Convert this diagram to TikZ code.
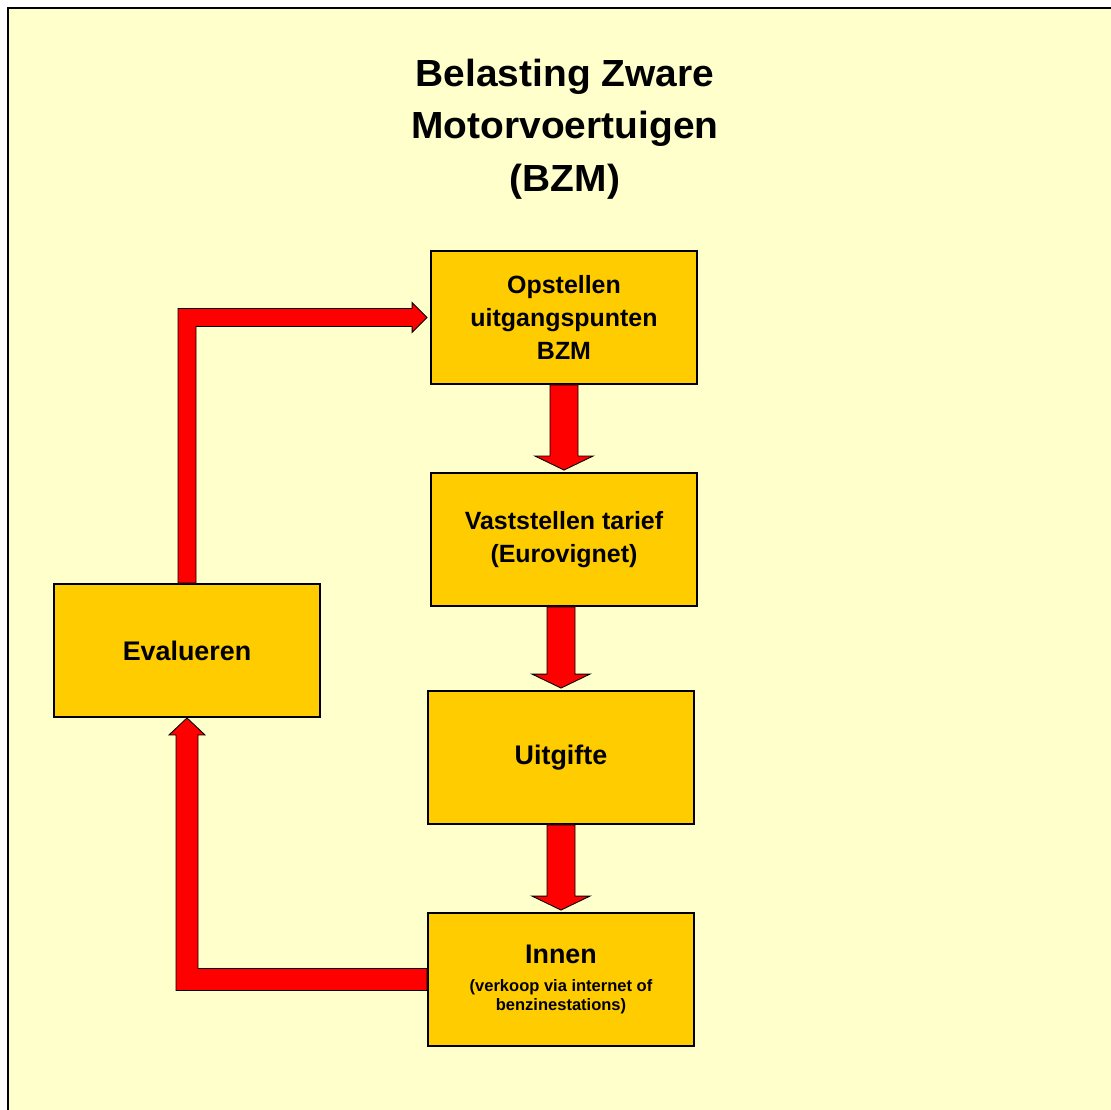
\documentclass[tikz,border=0pt]{standalone}
\usepackage{fontspec}
\setmainfont{Liberation Sans}
\newfontfamily\titelfont{Liberation Sans}[FakeStretch=1.03]
\usepackage{tikz}
\usetikzlibrary{calc,positioning}
\definecolor{achtergrond}{HTML}{FFFFCC}
\definecolor{blokgeel}{HTML}{FFCC00}
\tikzset{>=stealth}
\tikzset{
	stap/.style={draw=black, line width=1.1pt, fill=blokgeel, minimum width=5.32cm, minimum height=2.66cm, inner sep=0pt, align=center, font=\fontsize{14.2}{19}\selectfont\bfseries},
	grotestap/.style={stap, font=\fontsize{15.3}{19}\selectfont\bfseries},
	blok/.style={draw=black, line width=0.5pt, fill=red, line join=miter},
	titel/.style={align=center, font=\titelfont\fontsize{21.5}{29.8}\selectfont\bfseries}
}
\newcommand{\subfont}{\fontsize{9.4}{11.3}\selectfont}
% blokpijl naar beneden, van #1 naar #2
\newcommand{\pijlomlaag}[2]{%
	\draw[blok] ($(#1.south -| #2.north)+(-14,0)$) -- ($(#2.north)+(-14,-16)$) -- ($(#2.north)+(-29,-16)$) -- ($(#2.north)+(0,-2)$) -- ($(#2.north)+(29,-16)$) -- ($(#2.north)+(14,-16)$) -- ($(#1.south -| #2.north)+(14,0)$) -- cycle;}

\begin{document}
\begin{tikzpicture}[x=0.02cm,y=-0.02cm]
					\useasboundingbox (0,0) rectangle (1111,1109);
					\clip (0,0) rectangle (1111,1109);
					\fill[white] (0,0) rectangle (1111,1109);
					\draw[line width=1.7pt, fill=achtergrond] (8,8) rectangle (1125,1125);
					
					\node[titel] (T) at (565,129) {Belasting Zware\\Motorvoertuigen\\(BZM)};
					
					%Stappen
					\node[stap] (Op) at (564,317.5) {Opstellen\\uitgangspunten\\BZM};
					\node[stap] (Va) at (564,539.5) {Vaststellen tarief\\(Eurovignet)};
					\node[grotestap] (Ui) at (561,757.5) {Uitgifte};
					\node[grotestap] (In) at (561,979.5) {Innen\\[-3.2pt]{\subfont (verkoop via internet of}\\[-7.7pt]{\subfont benzinestations)}};
					\node[grotestap] (Ev) at (187,650.5) {Evalueren};
					
					%Pijlen
					\pijlomlaag{Op}{Va}
					\pijlomlaag{Va}{Ui}
					\pijlomlaag{Ui}{In}
					
					\draw[blok] ($(Ev.north)+(-9,0)$) -- ($(Ev.north |- Op.west)+(-9,-9)$) -- ($(Op.west)+(-18,-9)$) -- ($(Op.west)+(-18,-15)$) -- ($(Op.west)+(-3,0)$) -- ($(Op.west)+(-18,15)$) -- ($(Op.west)+(-18,9)$) -- ($(Ev.north |- Op.west)+(9,9)$) -- ($(Ev.north)+(9,0)$) -- cycle;
					\draw[blok] ($(In.west)+(0,-11)$) -- ($(Ev.south |- In.west)+(11,-11)$) -- ($(Ev.south)+(11,17)$) -- ($(Ev.south)+(18,17)$) -- (Ev.south) -- ($(Ev.south)+(-18,17)$) -- ($(Ev.south)+(-11,17)$) -- ($(Ev.south |- In.west)+(-11,11)$) -- ($(In.west)+(0,11)$) -- cycle;
				\end{tikzpicture}
\end{document}
